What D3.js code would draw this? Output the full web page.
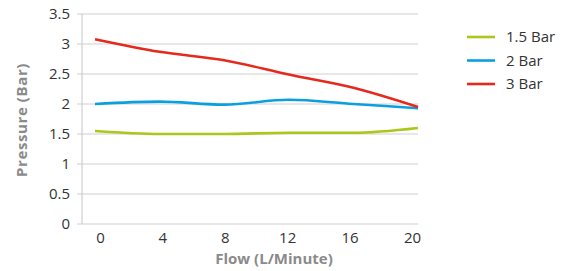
<!DOCTYPE html>
<html>
<head>
<meta charset="utf-8">
<script src="https://cdn.jsdelivr.net/npm/d3@7"></script>
<style>
  body { margin: 0; background: #fff; }
  svg text { font-family: "Open Sans", "DejaVu Sans", sans-serif; }
</style>
</head>
<body>
<div id="chart"></div>
<script>
const flows = ["0", "4", "8", "12", "16", "20"];
const yTicks = [0, 0.5, 1, 1.5, 2, 2.5, 3, 3.5];
const seriesNames = ["1.5 Bar", "2 Bar", "3 Bar"];
const seriesColors = ["#a9c819", "#0aa0e0", "#e5291c"];
const bar15 = [1.55, 1.5, 1.5, 1.52, 1.52, 1.6];
const bar2 = [2.0, 2.04, 1.99, 2.07, 2.0, 1.93];
const bar3 = [3.08, 2.87, 2.73, 2.49, 2.27, 1.95];

const width = 564, height = 271;
const svg = d3.select("#chart").append("svg")
  .attr("width", width).attr("height", height);

const x = d3.scalePoint().domain(flows).range([95, 418]);
// tick labels sit a little inside the line ends
const xLabels = d3.scalePoint().domain(flows).range([100, 412]);
const y = d3.scaleLinear().domain([0, 3.5]).range([224, 14]);

// grid lines
svg.append("g")
  .selectAll("line")
  .data(yTicks)
  .join("line")
  .attr("x1", 77).attr("x2", 418)
  .attr("y1", d => y(d)).attr("y2", d => y(d))
  .attr("stroke", "#cfcfcf").attr("stroke-width", 1.2);

// y axis line
svg.append("line")
  .attr("x1", 82).attr("x2", 82).attr("y1", y(3.5)).attr("y2", y(0))
  .attr("stroke", "#cfcfcf").attr("stroke-width", 1.2);

const yAxis = svg.append("g").attr("transform", "translate(76,0)")
  .call(d3.axisLeft(y).tickValues(yTicks).tickSize(0).tickPadding(6).tickFormat(d3.format("")));
yAxis.select(".domain").remove();
yAxis.selectAll("text").attr("font-size", 15).attr("fill", "#333");

const xAxis = svg.append("g").attr("transform", "translate(0,224)")
  .call(d3.axisBottom(xLabels).tickSize(0).tickPadding(8));
xAxis.select(".domain").remove();
xAxis.selectAll("text").attr("font-size", 15).attr("fill", "#333");

const data = [bar15, bar2, bar3];
const line = d3.line()
  .x((d, i) => x(flows[i]))
  .y(d => y(d))
  .curve(d3.curveMonotoneX);

svg.append("g")
  .selectAll("path")
  .data(data)
  .join("path")
  .attr("d", d => line(d))
  .attr("fill", "none")
  .attr("stroke", (d, i) => seriesColors[i])
  .attr("stroke-width", 2.6);

// axis titles
svg.append("text")
  .attr("transform", "translate(27,120) rotate(-90)")
  .attr("text-anchor", "middle")
  .attr("font-size", 15).attr("font-weight", "bold").attr("fill", "#8a8a8a")
  .attr("letter-spacing", 0.6)
  .text("Pressure (Bar)");

svg.append("text")
  .attr("x", 274).attr("y", 264)
  .attr("text-anchor", "middle")
  .attr("font-size", 15).attr("font-weight", "bold").attr("fill", "#8a8a8a")
  .text("Flow (L/Minute)");

// legend
const legend = svg.append("g")
  .selectAll("g")
  .data(seriesNames)
  .join("g")
  .attr("transform", (d, i) => `translate(467,${37 + i * 23.5})`);
legend.append("line")
  .attr("x1", 0).attr("x2", 28)
  .attr("stroke", (d, i) => seriesColors[i]).attr("stroke-width", 2.6);
legend.append("text")
  .attr("x", 39).attr("dy", "0.35em")
  .attr("font-size", 15).attr("fill", "#333")
  .text(d => d);
</script>
</body>
</html>
